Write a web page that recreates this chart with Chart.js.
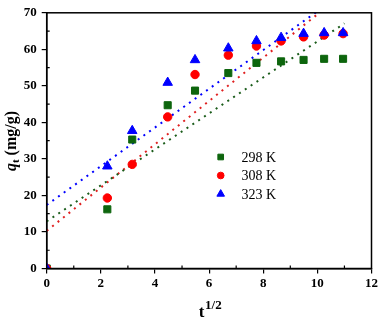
<!DOCTYPE html>
<html><head><meta charset="utf-8">
<script src="https://cdn.jsdelivr.net/npm/chart.js@4/dist/chart.umd.min.js"></script>
<style>html,body{margin:0;padding:0;background:#fff}#wrap{width:380px;height:321px}</style>
</head><body><div id="wrap"><canvas id="c" width="380" height="321"></canvas></div>
<script>
const xVals = [0, 2.24, 3.16, 4.47, 5.48, 6.71, 7.75, 8.66, 9.49, 10.25, 10.95];
const q298 = [0, 16.2, 35.3, 44.7, 48.7, 53.5, 56.3, 56.7, 57.1, 57.4, 57.4];
const q308 = [0, 19.3, 28.5, 41.5, 53.1, 58.4, 60.9, 62.3, 63.4, 63.9, 64.3];
const q323 = [0, 28.0, 37.7, 50.9, 57.1, 60.3, 62.3, 63.2, 64.3, 64.5, 64.5];
const fitX = [0, 11];
const fit298 = [12.9, 67.1];
const fit308 = [10.3, 75.5];
const fit323 = [17.4, 75.7];
const seriesLabels = ['298 K', '308 K', '323 K'];
const xTicks = [0, 2, 4, 6, 8, 10, 12];
const yTicks = [0, 10, 20, 30, 40, 50, 60, 70];
const xMinor = [1, 3, 5, 7, 9, 11];
const yMinor = [5, 15, 25, 35, 45, 55, 65];

const GREEN = '#0d650d', RED = '#ff0000', BLUE = '#0000ff';
const pts = (xs, ys) => xs.map((x, i) => ({x, y: ys[i]}));
const SERIF = "'Liberation Serif','Times New Roman',serif";

function fitDs(ys, color) {
  return {data: pts(fitX, ys), showLine: true, borderColor: color, borderWidth: 2,
    borderDash: [2, 5], pointRadius: 0, fill: false, order: 5, isFit: true};
}
function ptDs(label, ys, color, style, r, order) {
  return {label, data: pts(xVals, ys), showLine: false, pointStyle: style, pointRadius: r,
    pointHoverRadius: r, backgroundColor: color, borderColor: color, borderWidth: 1, order};
}

const datasets = [
  fitDs(fit298, '#1a5c1a'), fitDs(fit308, '#e02020'), fitDs(fit323, BLUE),
  ptDs(seriesLabels[0], q298, GREEN, 'rect', 5, 3),
  ptDs(seriesLabels[1], q308, RED, 'circle', 4.2, 2),
  ptDs(seriesLabels[2], q323, BLUE, 'triangle', 5.5, 1)
];

const decor = {
  id: 'decor',
  afterDraw(chart) {
    const {ctx, chartArea: a, scales: {x, y}} = chart;
    ctx.save();
    ctx.strokeStyle = '#000';
    ctx.lineWidth = 1.5;
    ctx.strokeRect(a.left, a.top, a.right - a.left, a.bottom - a.top);
    ctx.lineWidth = 1.2;
    ctx.beginPath();
    xMinor.forEach(v => { const px = x.getPixelForValue(v); ctx.moveTo(px, a.bottom); ctx.lineTo(px, a.bottom - 3); });
    yMinor.forEach(v => { const py = y.getPixelForValue(v); ctx.moveTo(a.left, py); ctx.lineTo(a.left + 3, py); });
    ctx.stroke();

    // legend
    const pointSets = chart.data.datasets.filter(d => !d.isFit);
    const lx = 220.7, tx = 241.5, rows = [157, 175.5, 194];
    pointSets.forEach((d, i) => {
      ctx.fillStyle = d.backgroundColor; ctx.strokeStyle = d.borderColor; ctx.lineWidth = 1;
      Chart.helpers.drawPoint(ctx, {pointStyle: d.pointStyle, radius: d.pointRadius * 0.8, borderWidth: 1}, lx, rows[i]);
      ctx.fillStyle = '#000';
      ctx.font = '14px ' + SERIF;
      ctx.textBaseline = 'middle'; ctx.textAlign = 'left';
      ctx.fillText(d.label, tx, rows[i] + 1);
    });

    // y title
    ctx.save();
    ctx.translate(11, 141);
    ctx.rotate(-Math.PI / 2);
    ctx.fillStyle = '#000';
    ctx.textBaseline = 'alphabetic';
    const f1 = 'italic bold 16px ' + SERIF, f2 = 'bold 11px ' + SERIF, f3 = 'bold 16px ' + SERIF;
    ctx.font = f1; const w1 = ctx.measureText('q').width;
    ctx.font = f2; const w2 = ctx.measureText('t').width;
    ctx.font = f3; const w3 = ctx.measureText(' (mg/g)').width;
    let sx = -(w1 + w2 + w3) / 2;
    ctx.textAlign = 'left';
    ctx.font = f1; ctx.fillText('q', sx, 5); sx += w1;
    ctx.font = f2; ctx.fillText('t', sx, 8); sx += w2;
    ctx.font = f3; ctx.fillText(' (mg/g)', sx, 5);
    ctx.restore();

    // x title
    ctx.fillStyle = '#000';
    ctx.textAlign = 'left'; ctx.textBaseline = 'alphabetic';
    const g1 = 'bold 17px ' + SERIF, g2 = 'bold 13px ' + SERIF;
    ctx.font = g1; const v1 = ctx.measureText('t').width;
    ctx.font = g2; const v2 = ctx.measureText('1/2').width;
    let bx = 210 - (v1 + v2) / 2;
    ctx.font = g1; ctx.fillText('t', bx, 316.5); bx += v1 + 0.5;
    ctx.font = g2; ctx.fillText('1/2', bx, 309);
    ctx.restore();
  }
};

new Chart(document.getElementById('c'), {
  type: 'scatter',
  data: {datasets},
  options: {
    responsive: false, animation: false,
    layout: {padding: {top: 6, right: 8, left: 0, bottom: 0}},
    plugins: {legend: {display: false}, tooltip: {enabled: false}},
    scales: {
      x: {
        type: 'linear', min: 0, max: 12,
        afterBuildTicks: s => { s.ticks = xTicks.map(v => ({value: v})); },
        afterFit: s => { s.height = 52.5; },
        grid: {drawOnChartArea: false, drawTicks: true, tickLength: 5, color: '#000', lineWidth: 1.2},
        border: {display: true, color: '#000', width: 1.5},
        ticks: {color: '#000', padding: 2, maxRotation: 0, font: {family: SERIF, size: 13, weight: 'bold'}}
      },
      y: {
        type: 'linear', min: 0, max: 70,
        afterBuildTicks: s => { s.ticks = yTicks.map(v => ({value: v})); },
        afterFit: s => { s.width = 46.7; },
        grid: {drawOnChartArea: false, drawTicks: true, tickLength: 5, color: '#000', lineWidth: 1.2},
        border: {display: true, color: '#000', width: 1.5},
        ticks: {color: '#000', padding: 5, font: {family: SERIF, size: 13, weight: 'bold'}}
      }
    }
  },
  plugins: [decor]
});
</script></body></html>
